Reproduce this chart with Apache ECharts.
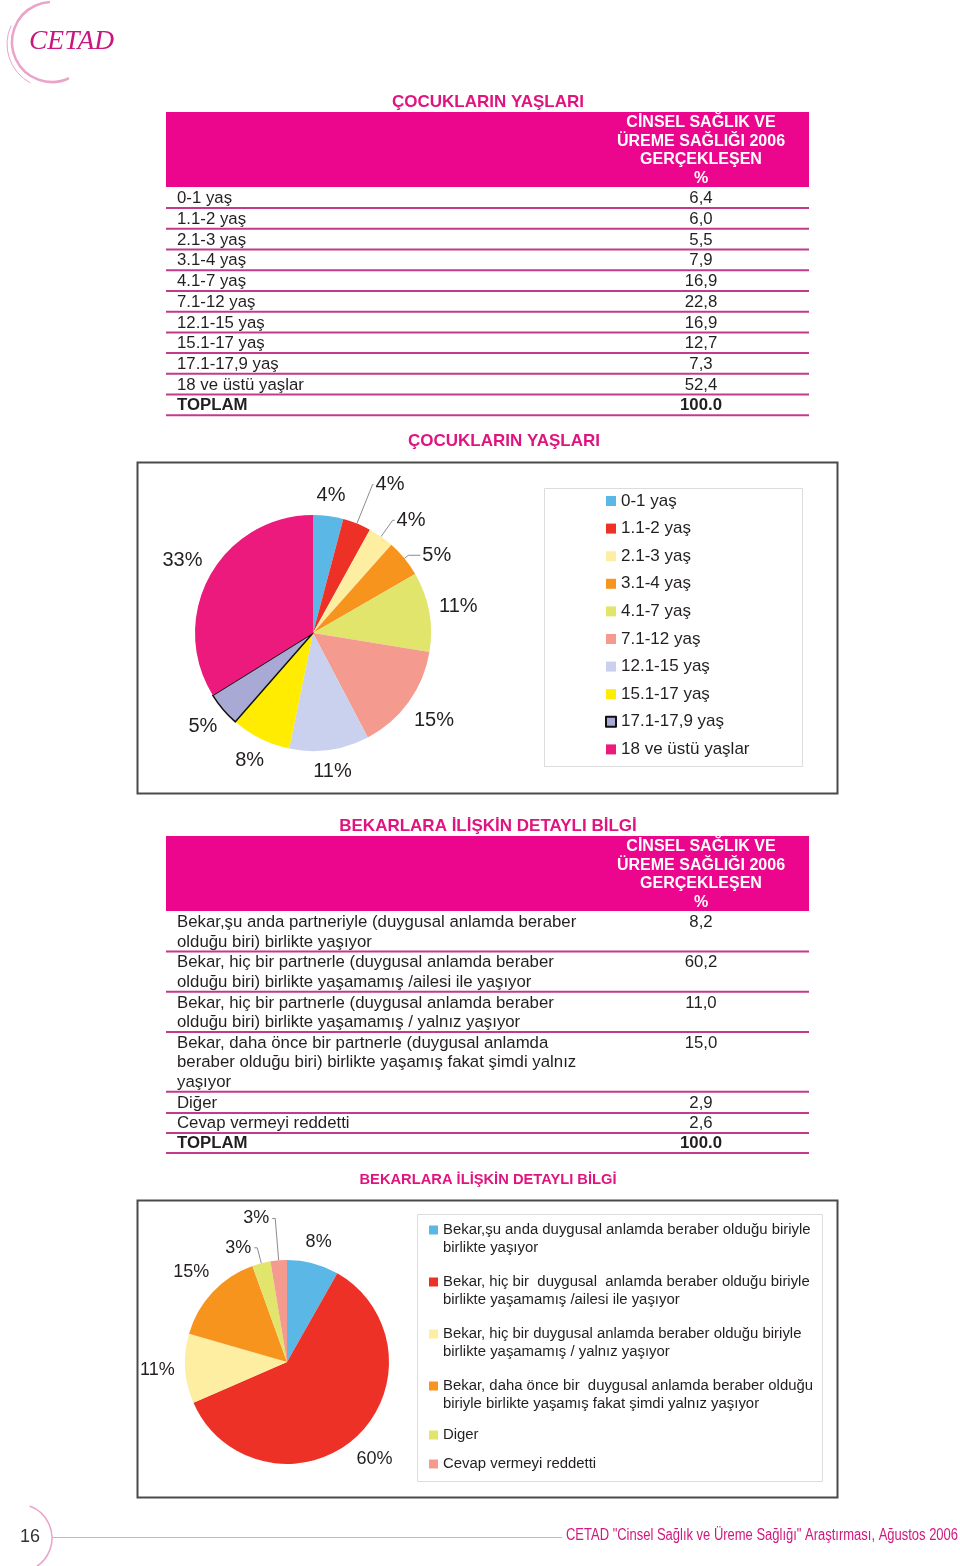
<!DOCTYPE html>
<html><head><meta charset="utf-8">
<script src="https://cdn.jsdelivr.net/npm/echarts@6/dist/echarts.min.js"></script>
<style>html,body{margin:0;padding:0;background:#fff}#c{width:960px;height:1566px}</style>
</head><body><div id="c"></div>
<script>
// ---------------- DATA ----------------
const ageTitle = 'ÇOCUKLARIN YAŞLARI';
const tableHeader = ['CİNSEL SAĞLIK VE', 'ÜREME SAĞLIĞI 2006', 'GERÇEKLEŞEN', '%'];
const ageCategories = ['0-1 yaş', '1.1-2 yaş', '2.1-3 yaş', '3.1-4 yaş', '4.1-7 yaş', '7.1-12 yaş', '12.1-15 yaş', '15.1-17 yaş', '17.1-17,9 yaş', '18 ve üstü yaşlar'];
const ageValues = [6.4, 6.0, 5.5, 7.9, 16.9, 22.8, 16.9, 12.7, 7.3, 52.4];
const agePieLabels = ['4%', '4%', '4%', '5%', '11%', '15%', '11%', '8%', '5%', '33%'];

const singleTitle = 'BEKARLARA İLİŞKİN DETAYLI BİLGİ';
const singleTableRows = [
  ['Bekar,şu anda partneriyle (duygusal anlamda beraber', 'olduğu biri) birlikte yaşıyor'],
  ['Bekar, hiç bir partnerle (duygusal anlamda beraber', 'olduğu biri) birlikte yaşamamış /ailesi ile yaşıyor'],
  ['Bekar, hiç bir partnerle (duygusal anlamda beraber', 'olduğu biri) birlikte yaşamamış / yalnız yaşıyor'],
  ['Bekar, daha önce bir partnerle (duygusal anlamda', 'beraber olduğu biri) birlikte yaşamış fakat şimdi yalnız', 'yaşıyor'],
  ['Diğer'],
  ['Cevap vermeyi reddetti']
];
const singleValues = [8.2, 60.2, 11.0, 15.0, 2.9, 2.6];
const singleLegendLines = [
  ['Bekar,şu anda duygusal anlamda beraber olduğu biriyle', 'birlikte yaşıyor'],
  ['Bekar, hiç bir  duygusal  anlamda beraber olduğu biriyle', 'birlikte yaşamamış /ailesi ile yaşıyor'],
  ['Bekar, hiç bir duygusal anlamda beraber olduğu biriyle', 'birlikte yaşamamış / yalnız yaşıyor'],
  ['Bekar, daha önce bir  duygusal anlamda beraber olduğu', 'biriyle birlikte yaşamış fakat şimdi yalnız yaşıyor'],
  ['Diger'],
  ['Cevap vermeyi reddetti']
];
const singlePieLabels = ['8%', '60%', '11%', '15%', '3%', '3%'];
const totalLabel = 'TOPLAM';
const totalValueLabel = '100.0';
const footerText = 'CETAD "Cinsel Sağlık ve Üreme Sağlığı" Araştırması, Ağustos 2006';
const pageNumber = '16';
const logoText = 'CETAD';

// ---------------- STYLE ----------------
const FONT = "'Liberation Sans', Arial, Helvetica, sans-serif";
const MAG = '#E0147F';
const HEAD = '#EC068D';
const SEP = '#C23A8C';
const INK = '#231f20';
const ROWFS = 16.8;
const ageColors = ['#5BB8E6', '#EE3127', '#FDEEA2', '#F7941E', '#E1E56C', '#F49A8E', '#C9D1EE', '#FFEC00', '#A9A9D5', '#EC1A7D'];
const singleColors = ['#5BB8E6', '#EE3127', '#FDEEA2', '#F7941E', '#E1E56C', '#F49A8E'];
const fmt = v => v.toFixed(1).replace('.', ',');
const singleNames = singleLegendLines.map(l => l.join(' '));

function txt(text, x, y, o) {
  return { type: 'text', silent: true, style: Object.assign({ text: text, x: x, y: y, fill: INK, fontFamily: FONT, fontSize: ROWFS, align: 'left', verticalAlign: 'middle' }, o || {}) };
}
function hline(x1, x2, y, color, w) {
  return { type: 'line', silent: true, shape: { x1: x1, y1: y, x2: x2, y2: y }, style: { stroke: color, lineWidth: w } };
}
function box(x, y, w, h, stroke, lw) {
  return { type: 'rect', silent: true, shape: { x: x, y: y, width: w, height: h }, style: { fill: 'none', stroke: stroke, lineWidth: lw } };
}

const g = [];
// logo
g.push({ type: 'arc', silent: true, shape: { cx: 52, cy: 42, r: 40, startAngle: 65 * Math.PI / 180, endAngle: 267 * Math.PI / 180, clockwise: true }, style: { stroke: '#EBA3C9', lineWidth: 2.5, fill: 'none' } });
g.push({ type: 'arc', silent: true, shape: { cx: 51, cy: 44, r: 44, startAngle: 118 * Math.PI / 180, endAngle: 205 * Math.PI / 180, clockwise: true }, style: { stroke: '#EBA3C9', lineWidth: 1, fill: 'none' } });
g.push(txt(logoText, 29, 42, { fill: '#C9177F', fontFamily: "'Liberation Serif', 'Times New Roman', serif", fontStyle: 'italic', fontSize: 27.5 }));

// table 1
const L = 166, R = 809, TX = 177, VX = 701;
g.push(txt(ageTitle, 488, 102, { fill: MAG, fontWeight: 'bold', fontSize: 17, align: 'center' }));
g.push({ type: 'rect', silent: true, shape: { x: L, y: 112, width: R - L, height: 75 }, style: { fill: HEAD } });
tableHeader.forEach((l, i) => g.push(txt(l, VX, 122.5 + i * 18.7, { fill: '#fff', fontWeight: 'bold', fontSize: 16, align: 'center' })));
const t1Labels = ageCategories.concat([totalLabel]);
const t1Vals = ageValues.map(fmt).concat([totalValueLabel]);
t1Labels.forEach((lab, i) => {
  const y = 198.5 + i * 20.73;
  const bold = i === t1Labels.length - 1;
  g.push(txt(lab, TX, y, { fontWeight: bold ? 'bold' : 'normal' }));
  g.push(txt(t1Vals[i], VX, y, { align: 'center', fontWeight: bold ? 'bold' : 'normal' }));
  g.push(hline(L, R, y + 9.5, SEP, 2));
});

// pie 1 title and boxes
g.push(txt(ageTitle, 504, 441, { fill: MAG, fontWeight: 'bold', fontSize: 17, align: 'center' }));
g.push(box(137.5, 462.5, 700, 331, '#4a4a4a', 2));
g.push(box(544.5, 488.5, 258, 278, '#dcdcdc', 1));

// table 2
g.push(txt(singleTitle, 488, 826, { fill: MAG, fontWeight: 'bold', fontSize: 17, align: 'center' }));
g.push({ type: 'rect', silent: true, shape: { x: L, y: 836, width: R - L, height: 75 }, style: { fill: HEAD } });
tableHeader.forEach((l, i) => g.push(txt(l, VX, 847 + i * 18.5, { fill: '#fff', fontWeight: 'bold', fontSize: 16, align: 'center' })));
let yy = 922.5;
const t2Rows = singleTableRows.concat([[totalLabel]]);
const t2Vals = singleValues.map(fmt).concat([totalValueLabel]);
t2Rows.forEach((lines, i) => {
  const bold = i === t2Rows.length - 1;
  lines.forEach((ln, j) => g.push(txt(ln, TX, yy + j * 19.6, { fontWeight: bold ? 'bold' : 'normal' })));
  g.push(txt(t2Vals[i], VX, yy, { align: 'center', fontWeight: bold ? 'bold' : 'normal' }));
  g.push(hline(L, R, yy + (lines.length - 1) * 19.6 + 9.5, SEP, 2));
  yy += lines.length * 20.1;
});

// pie 2 title and boxes
g.push(txt(singleTitle, 488, 1180, { fill: MAG, fontWeight: 'bold', fontSize: 14.7, align: 'center' }));
g.push(box(137.5, 1200.5, 700, 297, '#4a4a4a', 2));
g.push(box(417.5, 1214.5, 405, 267, '#dcdcdc', 1));

// footer
const FOOTFONT = "'Liberation Sans', Arial, sans-serif";
const FOOTFS = 16;
const mctx = document.createElement('canvas').getContext('2d');
mctx.font = FOOTFS + 'px ' + FOOTFONT;
const footScale = Math.min(1, 392 / mctx.measureText(footerText).width);
g.push({ type: 'arc', silent: true, shape: { cx: 18, cy: 1538, r: 34, startAngle: -70 * Math.PI / 180, endAngle: 62 * Math.PI / 180, clockwise: true }, style: { stroke: '#EBA3C9', lineWidth: 1.5, fill: 'none' } });
g.push(hline(52, 562, 1537.5, '#EBA3C9', 1));
g.push(txt(pageNumber, 30, 1537, { fontSize: 18, align: 'center', fill: '#333' }));
g.push({ type: 'text', silent: true, x: 566, y: 1536, scaleX: footScale, style: { text: footerText, x: 0, y: 0, fill: '#D2187F', fontFamily: FOOTFONT, fontSize: FOOTFS, align: 'left', verticalAlign: 'middle' } });

// ---------------- PIE LABEL LAYOUT ----------------
function radialLayout(cx, cy, r, gap, values, lineSet) {
  const total = values.reduce((a, b) => a + b, 0);
  const mids = []; let s = 0;
  values.forEach(v => { mids.push(s + v / 2); s += v; });
  return function (p) {
    if (lineSet.has(p.dataIndex)) return {};
    const a = mids[p.dataIndex] / total * 2 * Math.PI;
    const dx = Math.sin(a), dy = -Math.cos(a);
    const w = p.labelRect.width, h = p.labelRect.height;
    const d = r + gap + Math.abs(dx) * w / 2 + Math.abs(dy) * h / 2;
    return { x: cx + dx * d, y: cy + dy * d, align: 'center', verticalAlign: 'middle' };
  };
}

const age1Lines = { 1: { length: 42, length2: 1 }, 2: { length: 20, length2: 2 }, 3: { length: 5, length2: 12 } };
const single2Lines = { 4: { length: 16, length2: 3 }, 5: { length: 42, length2: 3 } };

const option = {
  backgroundColor: '#ffffff',
  animation: false,
  graphic: { elements: g },
  legend: [
    {
      data: ageCategories, orient: 'vertical', left: 605, top: 492, padding: 0,
      itemWidth: 10, itemHeight: 10, itemGap: 9.6, icon: 'rect', selectedMode: false,
      textStyle: { fontSize: 17, lineHeight: 18, color: INK, fontFamily: FONT }
    },
    {
      data: singleNames.slice(0, 4), orient: 'vertical', left: 429, top: 1203, padding: 0,
      itemWidth: 9, itemHeight: 9, itemGap: -2, icon: 'rect', selectedMode: false,
      formatter: name => '\n' + singleLegendLines[singleNames.indexOf(name)].join('\n'),
      textStyle: { fontSize: 14.9, lineHeight: 18, color: INK, fontFamily: FONT }
    },
    {
      data: singleNames.slice(4), orient: 'vertical', left: 429, top: 1426, padding: 0,
      itemWidth: 9, itemHeight: 9, itemGap: 11, icon: 'rect', selectedMode: false,
      textStyle: { fontSize: 14.9, lineHeight: 18, color: INK, fontFamily: FONT }
    }
  ],
  series: [
    {
      type: 'pie', name: ageTitle, center: [313, 633], radius: 118, startAngle: 90, clockwise: true,
      avoidLabelOverlap: false, emphasis: { disabled: true }, silent: true,
      itemStyle: { borderWidth: 0 },
      data: ageCategories.map((n, i) => {
        const d = { name: n, value: ageValues[i], itemStyle: { color: ageColors[i] } };
        if (i === 8) { d.itemStyle.borderColor = '#111'; d.itemStyle.borderWidth = 1.5; }
        if (age1Lines[i]) d.labelLine = Object.assign({ show: true }, age1Lines[i]);
        return d;
      }),
      label: { show: true, position: 'outside', formatter: p => agePieLabels[p.dataIndex], fontSize: 20, color: INK, fontFamily: FONT, distanceToLabelLine: 2 },
      labelLine: { show: false, length: 10, length2: 0, smooth: false, lineStyle: { color: '#8c8c8c', width: 1 } },
      labelLayout: radialLayout(313, 633, 118, 9, ageValues, new Set([1, 2, 3]))
    },
    {
      type: 'pie', name: singleTitle, center: [287, 1362], radius: 102, startAngle: 90, clockwise: true,
      avoidLabelOverlap: false, emphasis: { disabled: true }, silent: true,
      itemStyle: { borderWidth: 0 },
      data: singleNames.map((n, i) => {
        const d = { name: n, value: singleValues[i], itemStyle: { color: singleColors[i] } };
        if (single2Lines[i]) d.labelLine = Object.assign({ show: true }, single2Lines[i]);
        return d;
      }),
      label: { show: true, position: 'outside', formatter: p => singlePieLabels[p.dataIndex], fontSize: 18, color: INK, fontFamily: FONT, distanceToLabelLine: 3 },
      labelLine: { show: false, length: 10, length2: 0, smooth: false, lineStyle: { color: '#8c8c8c', width: 1 } },
      labelLayout: radialLayout(287, 1362, 102, 10, singleValues, new Set([4, 5]))
    }
  ]
};

const chart = echarts.init(document.getElementById('c'));
chart.setOption(option);
</script></body></html>
